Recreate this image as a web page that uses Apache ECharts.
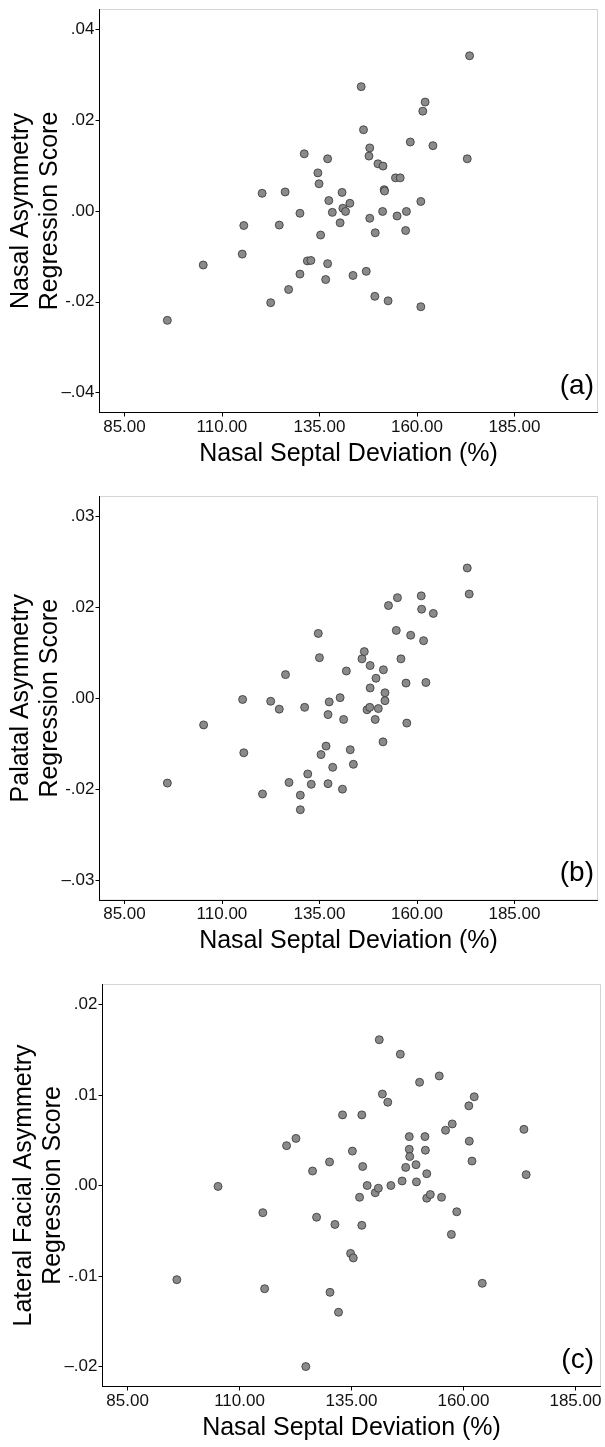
<!DOCTYPE html>
<html>
<head>
<meta charset="utf-8">
<script src="https://cdn.jsdelivr.net/npm/echarts@6/dist/echarts.min.js"></script>
<style>
html,body{margin:0;padding:0;background:#fff;}
#chart{width:605px;height:1447px;}
</style>
</head>
<body>
<div id="chart"></div>
<script>
// x ticks shared by all three panels
var xTicks = [85, 110, 135, 160, 185]
var xTickLabels = ['85.00', '110.00', '135.00', '160.00', '185.00']

// (a) nasal asymmetry
var aTicks = [-0.04, -0.02, 0, 0.02, 0.04]
var aTickLabels = ['–.04', '-.02', '.00', '.02', '.04']
var aX = [96.0,105.2,115.2,115.6,120.3,122.5,124.7,126.2,127.1,130.0,130.0,131.1,131.9,132.8,134.6,134.9,135.3,136.6,137.1,137.1,137.4,138.3,140.3,140.8,141.0,141.7,142.8,143.6,145.7,146.3,147.0,147.9,147.7,147.9,149.2,149.3,150.0,151.3,151.2,151.6,151.7,152.6,154.5,155.7,154.9,157.3,157.1,158.3,161.0,161.0,161.5,162.1,164.1,172.9,173.5]
var aY = [-0.0241,-0.0119,-0.0095,-0.0032,0.0039,-0.0202,-0.0031,0.0042,-0.0173,-0.0005,-0.0139,0.0126,-0.0110,-0.0109,0.0084,0.0060,-0.0053,-0.0151,0.0115,-0.0116,0.0023,-0.0003,-0.0026,0.0041,0.0006,-0.0001,0.0017,-0.0142,0.0274,0.0179,-0.0133,0.0139,0.0121,-0.0016,-0.0188,-0.0048,0.0104,0.0099,-0.0001,0.0047,0.0044,-0.0198,0.0073,0.0073,-0.0011,-0.0001,-0.0043,0.0152,0.0021,-0.0211,0.0220,0.0240,0.0144,0.0115,0.0342]

// (b) palatal asymmetry
var bTicks = [-0.03, -0.015, 0, 0.015, 0.03]
var bTickLabels = ['–.03', '-.02', '.00', '.02', '.03']
var bX = [96.0,105.3,115.3,115.6,120.4,122.5,124.7,126.3,127.2,130.1,130.1,131.2,132.0,132.9,134.7,135.0,135.4,136.7,137.2,137.5,137.2,138.4,140.3,140.9,141.2,141.9,142.9,143.7,146.5,145.9,148.0,148.0,147.2,147.9,149.5,149.3,150.1,151.4,151.8,151.8,151.3,152.7,155.0,154.7,155.9,157.2,157.4,158.4,161.1,161.2,161.7,162.3,164.2,172.9,173.4]
var bY = [-0.0140,-0.0044,-0.0002,-0.0090,-0.0158,-0.0005,-0.0018,0.0039,-0.0139,-0.0160,-0.0184,-0.0015,-0.0125,-0.0142,0.0107,0.0067,-0.0093,-0.0079,-0.0027,-0.0006,-0.0141,-0.0114,0.0001,-0.0150,-0.0035,0.0045,-0.0085,-0.0109,0.0077,0.0065,0.0054,0.0017,-0.0019,-0.0015,0.0033,-0.0035,-0.0017,0.0047,0.0009,-0.0004,-0.0072,0.0153,0.0166,0.0112,0.0065,0.0025,-0.0041,0.0104,0.0169,0.0147,0.0095,0.0026,0.0140,0.0215,0.0172]

// (c) lateral facial asymmetry
var cTicks = [-0.02, -0.01, 0, 0.01, 0.02]
var cTickLabels = ['–.02', '-.01', '.00', '.01', '.02']
var cX = [96.0,105.2,115.2,115.6,120.5,122.6,124.8,126.3,127.2,130.1,130.2,131.3,132.1,133.0,135.2,134.8,135.4,136.8,137.3,137.5,137.3,138.5,140.3,141.0,141.2,141.9,143.1,143.8,145.9,146.3,147.1,147.9,147.9,148.0,149.4,149.5,150.2,151.4,151.5,151.8,151.8,152.6,154.6,155.1,156.0,157.5,157.3,158.5,161.2,161.3,161.9,162.4,164.2,173.5,174.0]
var cY = [-0.0104,-0.0001,-0.0030,-0.0114,0.0044,0.0052,-0.0200,0.0016,-0.0035,0.0026,-0.0118,-0.0043,-0.0140,0.0078,0.0038,-0.0075,-0.0080,-0.0013,0.0078,0.0021,-0.0044,0.0000,-0.0008,-0.0003,0.0161,0.0101,0.0092,0.0000,0.0145,0.0005,0.0020,0.0054,0.0040,0.0032,0.0023,0.0004,0.0114,0.0054,0.0039,0.0013,-0.0014,-0.0010,0.0121,-0.0013,0.0061,0.0068,-0.0054,-0.0029,0.0088,0.0049,0.0027,0.0098,-0.0108,0.0062,0.0012]

var FONT = 'Liberation Sans'

function pickLabel(ticks, labels){
    return function(v){
        for(var i=0;i<ticks.length;i++){
            if(Math.abs(ticks[i]-v) < 1e-9) return labels[i]
        }
        return ''
    }
}

function makeX(idx, min, max){
    return {
        type:'value', gridIndex:idx, min:min, max:max,
        name:'Nasal Septal Deviation (%)', nameLocation:'middle', nameGap:29, nameMoveOverlap:false,
        nameTextStyle:{fontFamily:FONT, fontSize:25, color:'#000'},
        splitLine:{show:false},
        axisLine:{show:true, onZero:false, lineStyle:{color:'#000', width:1}},
        axisTick:{show:true, length:4, customValues:xTicks, lineStyle:{color:'#000'}},
        axisLabel:{customValues:xTicks, formatter:pickLabel(xTicks, xTickLabels), margin:6,
            fontFamily:FONT, fontSize:17, color:'#111'}
    }
}

function makeY(idx, lim, ticks, labels, title){
    return {
        type:'value', gridIndex:idx, min:-lim, max:lim,
        name:title, nameLocation:'middle', nameRotate:90, nameGap:35, nameMoveOverlap:false,
        nameTextStyle:{fontFamily:FONT, fontSize:25, color:'#000', lineHeight:29},
        splitLine:{show:false},
        axisLine:{show:true, onZero:false, lineStyle:{color:'#000', width:1}},
        axisTick:{show:true, length:4, customValues:ticks, lineStyle:{color:'#000'}},
        axisLabel:{customValues:ticks, formatter:pickLabel(ticks, labels), margin:5,
            fontFamily:FONT, fontSize:17, color:'#111'}
    }
}

function pts(xs, ys){
    return xs.map(function(x, i){ return [x, ys[i]] })
}

function makeSeries(idx, xs, ys){
    return {
        type:'scatter', xAxisIndex:idx, yAxisIndex:idx,
        data:pts(xs, ys), symbol:'circle', symbolSize:8,
        itemStyle:{color:'#8a8a8a', borderColor:'#333', borderWidth:0.8, opacity:1},
        emphasis:{disabled:true}
    }
}

function panelTag(text, x, y){
    return {
        type:'text', right:605 - x, top:y, z:10,
        style:{text:text, fontFamily:FONT, fontSize:28, fill:'#000'}
    }
}

var chart = echarts.init(document.getElementById('chart'))
var gridBase = {show:true, borderColor:'#d4d4d4', borderWidth:1, backgroundColor:'#fff',
    containLabel:false, outerBoundsMode:'none'}
chart.setOption({
    animation:false,
    grid:[
        Object.assign({left:99.5, top:9.5, width:498, height:403}, gridBase),
        Object.assign({left:99.5, top:496.5, width:498, height:403.5}, gridBase),
        Object.assign({left:102.5, top:984.5, width:498, height:402}, gridBase)
    ],
    xAxis:[
        makeX(0, 78.6, 206.3),
        makeX(1, 78.6, 206.3),
        makeX(2, 79.4, 190.6)
    ],
    yAxis:[
        makeY(0, 0.0444, aTicks, aTickLabels, 'Nasal Asymmetry\nRegression Score'),
        makeY(1, 0.0333, bTicks, bTickLabels, 'Palatal Asymmetry\nRegression Score'),
        makeY(2, 0.0222, cTicks, cTickLabels, 'Lateral Facial Asymmetry\nRegression Score')
    ],
    series:[
        makeSeries(0, aX, aY),
        makeSeries(1, bX, bY),
        makeSeries(2, cX, cY)
    ],
    graphic:[
        panelTag('(a)', 594, 372),
        panelTag('(b)', 594, 859),
        panelTag('(c)', 594, 1346)
    ]
})
</script>
</body>
</html>
